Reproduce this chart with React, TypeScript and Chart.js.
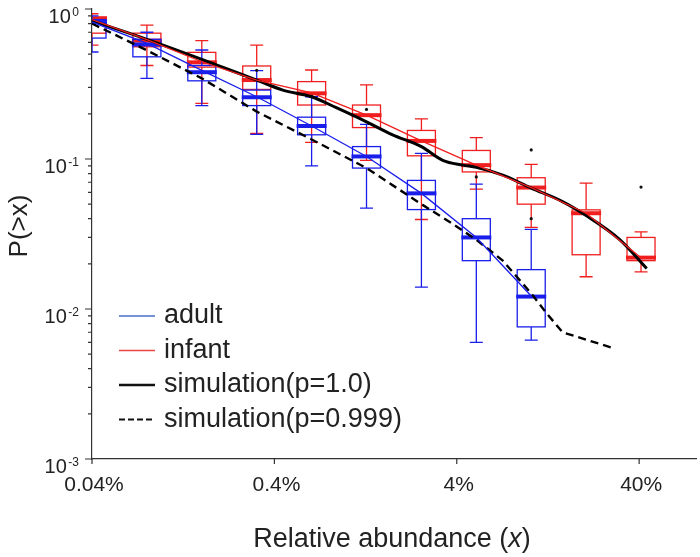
import React, { useEffect, useRef } from "react";
import { Chart, registerables } from "chart.js";
Chart.register(...registerables);

// ---- data (relative abundance in %, P(>x)) ----
const bins = [0.04, 0.08, 0.16, 0.32, 0.64, 1.28, 2.56, 5.12, 10.24, 20.48, 40.96];

const adultLow = [0.517, 0.345, 0.227, 0.146, 0.09, 0.047, 0.014, 0.006, 0.0062];
const adultQ1 = [0.64, 0.48, 0.332, 0.227, 0.145, 0.087, 0.046, 0.021, 0.0076];
const adultMed = [0.82, 0.58, 0.379, 0.258, 0.166, 0.104, 0.059, 0.03, 0.0121];
const adultQ3 = [0.85, 0.628, 0.42, 0.288, 0.19, 0.121, 0.072, 0.04, 0.0183];
const adultHigh = [0.9, 0.7, 0.533, 0.388, 0.26, 0.17, 0.109, 0.068, 0.034];

const infantLow = [0.575, 0.42, 0.235, 0.148, 0.129, 0.098, 0.0395, 0.063, 0.035, 0.0164, 0.0177];
const infantQ1 = [0.69, 0.56, 0.41, 0.291, 0.229, 0.162, 0.105, 0.082, 0.05, 0.023, 0.021];
const infantMed = [0.867, 0.615, 0.441, 0.336, 0.274, 0.196, 0.132, 0.091, 0.0645, 0.0435, 0.022];
const infantQ3 = [0.88, 0.69, 0.514, 0.417, 0.328, 0.229, 0.155, 0.114, 0.075, 0.0458, 0.03];
const infantHigh = [0.93, 0.78, 0.615, 0.575, 0.392, 0.312, 0.185, 0.139, 0.092, 0.069, 0.0327];

const adultLine = [0.82, 0.59, 0.39, 0.26, 0.166, 0.104, 0.059, 0.03, 0.0122];
const infantLine = [0.85, 0.625, 0.445, 0.336, 0.276, 0.196, 0.132, 0.091, 0.0645, 0.0435, 0.022];

const sim1X = [0.04, 0.08, 0.16, 0.228, 0.32, 0.445, 0.64, 0.88, 1.28, 1.78, 2.56, 3.35, 4.32, 5.12, 7.15, 10.24, 15.2, 20.48, 31.3, 44.0];
const sim1Y = [0.835, 0.628, 0.462, 0.392, 0.336, 0.288, 0.26, 0.219, 0.177, 0.145, 0.121, 0.098, 0.091, 0.088, 0.078, 0.064, 0.052, 0.042, 0.029, 0.0186];

const sim2X = [0.04, 0.08, 0.16, 0.32, 0.64, 1.28, 2.56, 3.66, 5.12, 7.15, 10.24, 12.4, 15.2, 28.6];
const sim2Y = [0.8, 0.53, 0.345, 0.207, 0.135, 0.087, 0.05, 0.038, 0.029, 0.021, 0.0127, 0.0094, 0.007, 0.0055];

const outX = [0.32, 0.64, 1.28, 5.12, 10.24, 10.24, 40.96];
const outY = [0.39, 0.262, 0.214, 0.076, 0.115, 0.04, 0.065];

const xTickValues = [0.04, 0.4, 4, 40];
const xTickLabels = ["0.04%", "0.4%", "4%", "40%"];
const yTickExps = [0, -1, -2, -3];

const legendLabels = ["adult", "infant", "simulation(p=1.0)", "simulation(p=0.999)"];

const BLUE = "rgb(25,30,235)";
const RED = "rgb(240,30,30)";
const FONT = "'Liberation Sans', Arial, sans-serif";

const pts = (xs: number[], ys: number[]) => ys.map((y, i) => ({ x: xs[i], y }));

function drawBoxes(ctx: CanvasRenderingContext2D, xs: any, ys: any, low: number[], q1: number[], med: number[], q3: number[], high: number[], color: string) {
  for (let i = 0; i < med.length; i++) {
    const x = xs.getPixelForValue(bins[i]);
    const yl = ys.getPixelForValue(low[i]);
    const y1 = ys.getPixelForValue(q1[i]);
    const ym = ys.getPixelForValue(med[i]);
    const y3 = ys.getPixelForValue(q3[i]);
    const yh = ys.getPixelForValue(high[i]);
    ctx.strokeStyle = color;
    ctx.lineWidth = 1.3;
    ctx.beginPath();
    ctx.moveTo(x, yh); ctx.lineTo(x, y3);
    ctx.moveTo(x, y1); ctx.lineTo(x, yl);
    ctx.moveTo(x - 6.5, yh); ctx.lineTo(x + 6.5, yh);
    ctx.moveTo(x - 6.5, yl); ctx.lineTo(x + 6.5, yl);
    ctx.stroke();
    ctx.strokeRect(x - 14, y3, 28, y1 - y3);
    ctx.lineWidth = 4;
    ctx.beginPath();
    ctx.moveTo(x - 15, ym); ctx.lineTo(x + 15, ym);
    ctx.stroke();
  }
}

const boxPlugin = {
  id: "boxes",
  beforeDatasetsDraw(chart: any) {
    const { ctx, chartArea, scales } = chart;
    ctx.save();
    ctx.beginPath();
    ctx.rect(chartArea.left, chartArea.top - 5, chartArea.right - chartArea.left, chartArea.bottom - chartArea.top + 5);
    ctx.clip();
    drawBoxes(ctx, scales.x, scales.y, infantLow, infantQ1, infantMed, infantQ3, infantHigh, RED);
    drawBoxes(ctx, scales.x, scales.y, adultLow, adultQ1, adultMed, adultQ3, adultHigh, BLUE);
    ctx.restore();
  },
};

const decorPlugin = {
  id: "decor",
  afterDraw(chart: any) {
    const { ctx, chartArea, scales } = chart;
    const xs = scales.x, ys = scales.y;
    ctx.save();
    ctx.strokeStyle = "#333";
    ctx.fillStyle = "#222";
    ctx.lineWidth = 1.2;
    // y ticks
    ctx.beginPath();
    for (const e of yTickExps) {
      const y = ys.getPixelForValue(Math.pow(10, e));
      ctx.moveTo(chartArea.left - 7, y); ctx.lineTo(chartArea.left, y);
      if (e > -3) {
        for (let m = 2; m <= 9; m++) {
          const ym = ys.getPixelForValue(m * Math.pow(10, e - 1));
          ctx.moveTo(chartArea.left - 4, ym); ctx.lineTo(chartArea.left, ym);
        }
      }
    }
    // x ticks
    for (const v of xTickValues) {
      const x = xs.getPixelForValue(v);
      ctx.moveTo(x, chartArea.bottom); ctx.lineTo(x, chartArea.bottom + 5);
    }
    ctx.stroke();
    // y tick labels
    for (const e of yTickExps) {
      const y = ys.getPixelForValue(Math.pow(10, e));
      const exp = e === 0 ? "0" : "-" + Math.abs(e);
      ctx.font = `12px ${FONT}`;
      ctx.textAlign = "right";
      ctx.textBaseline = "alphabetic";
      ctx.fillText(exp, 79, y + 6.5);
      const w = ctx.measureText(exp).width;
      ctx.font = `20px ${FONT}`;
      ctx.fillText("10", 79 - w - 1.5, y + 14);
    }
    // x tick labels
    ctx.font = `21px ${FONT}`;
    ctx.textAlign = "center";
    ctx.textBaseline = "middle";
    xTickValues.forEach((v, i) => {
      ctx.fillText(xTickLabels[i], xs.getPixelForValue(v) + 2, 485);
    });
    // y title
    ctx.save();
    ctx.translate(27, 226);
    ctx.rotate(-Math.PI / 2);
    ctx.font = `26px ${FONT}`;
    ctx.textAlign = "center";
    ctx.textBaseline = "alphabetic";
    ctx.fillText("P(>x)", 0, 0);
    ctx.restore();
    // x title with italic x
    const parts: [string, string][] = [["Relative abundance (", "normal"], ["x", "italic"], [")", "normal"]];
    let total = 0;
    const widths: number[] = [];
    for (const [t, st] of parts) {
      ctx.font = `${st} 27px ${FONT}`;
      const w = ctx.measureText(t).width;
      widths.push(w);
      total += w;
    }
    let cx = 392 - total / 2;
    ctx.textAlign = "left";
    ctx.textBaseline = "alphabetic";
    parts.forEach(([t, st], i) => {
      ctx.font = `${st} 27px ${FONT}`;
      ctx.fillText(t, cx, 547);
      cx += widths[i];
    });
    // legend
    const rows = [316, 350.5, 385, 419.5];
    const styles = [
      { c: "rgb(70,110,200)", w: 1.5, d: [] as number[] },
      { c: "rgb(235,70,70)", w: 1.5, d: [] as number[] },
      { c: "#111", w: 2.6, d: [] as number[] },
      { c: "#111", w: 2, d: [6, 3] },
    ];
    legendLabels.forEach((lab, i) => {
      const s = styles[i];
      ctx.strokeStyle = s.c;
      ctx.lineWidth = s.w;
      ctx.setLineDash(s.d);
      ctx.beginPath();
      ctx.moveTo(119, rows[i]);
      ctx.lineTo(155, rows[i]);
      ctx.stroke();
      ctx.setLineDash([]);
      ctx.font = `27px ${FONT}`;
      ctx.fillStyle = "#222";
      ctx.textAlign = "left";
      ctx.textBaseline = "alphabetic";
      ctx.fillText(lab, 164, rows[i] + 7);
    });
    ctx.restore();
  },
};

export default function App() {
  const ref = useRef<HTMLCanvasElement | null>(null);
  useEffect(() => {
    if (!ref.current) return;
    const chart = new Chart(ref.current, {
      type: "scatter",
      data: {
        datasets: [
          { data: pts(bins, adultLine), showLine: true, borderColor: BLUE, borderWidth: 1.3, pointRadius: 0 },
          { data: pts(bins, infantLine), showLine: true, borderColor: RED, borderWidth: 1.3, pointRadius: 0 },
          { data: pts(sim1X, sim1Y), showLine: true, borderColor: "#000", borderWidth: 3, pointRadius: 0, cubicInterpolationMode: "monotone" as any },
          { data: pts(sim2X, sim2Y), showLine: true, borderColor: "#000", borderWidth: 2.4, borderDash: [8, 5], pointRadius: 0 },
          { data: pts(outX, outY), showLine: false, pointRadius: 1.6, pointBackgroundColor: "#111", pointBorderWidth: 0 },
        ],
      },
      options: {
        animation: false,
        responsive: true,
        maintainAspectRatio: false,
        layout: { padding: { top: 9, right: 4, left: 0, bottom: 0 } },
        plugins: { legend: { display: false }, tooltip: { enabled: false } },
        scales: {
          x: {
            type: "logarithmic",
            min: 0.04,
            max: 82,
            ticks: { display: false },
            grid: { display: false },
            border: { display: true, color: "#333", width: 1.2 },
            afterFit: (s: any) => { s.height = 98; },
          },
          y: {
            type: "logarithmic",
            min: 0.001,
            max: 1,
            ticks: { display: false },
            grid: { display: false },
            border: { display: true, color: "#333", width: 1.2 },
            afterFit: (s: any) => { s.width = 92; },
          },
        },
      },
      plugins: [boxPlugin, decorPlugin],
    });
    return () => chart.destroy();
  }, []);
  return (
    <div style={{ position: "fixed", left: 0, top: 0, width: 700, height: 557, background: "#fff" }}>
      <canvas ref={ref} />
    </div>
  );
}
